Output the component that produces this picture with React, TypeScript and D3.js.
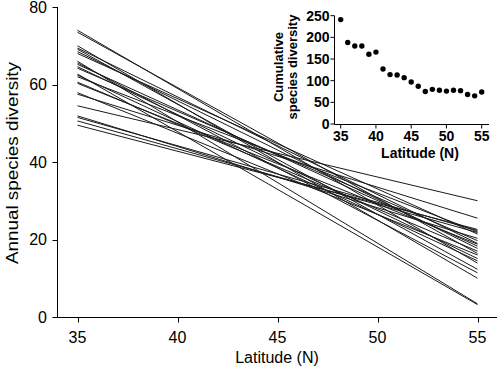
import React from "react";
import * as d3 from "d3";

// Regression lines: annual species diversity at 35°N and 55°N
const startValues = [74.0, 73.5, 70.0, 69.4, 69.1, 68.5, 68.0, 66.0, 65.6, 65.2, 64.6, 64.2, 62.7, 62.4, 62.0, 60.6, 60.3, 57.9, 57.5, 54.5, 51.9, 51.5, 50.6, 49.5];
const endValues = [13.9, 16.4, 10.0, 19.0, 12.3, 17.7, 21.4, 3.4, 11.4, 18.3, 15.1, 19.7, 3.2, 14.5, 22.0, 17.0, 18.8, 16.0, 25.5, 30.0, 20.3, 22.3, 21.8, 22.6];
const latStart = 35;
const latEnd = 55;

// Inset: cumulative species diversity by latitude
const insetLat = [35, 36, 37, 38, 39, 40, 41, 42, 43, 44, 45, 46, 47, 48, 49, 50, 51, 52, 53, 54, 55];
const insetDiv = [241, 188, 180, 180, 161, 166, 127, 114, 113, 107, 97, 87, 75, 80, 78, 76, 78, 77, 68, 65, 74];

const mainXTicks = [35, 40, 45, 50, 55];
const mainYTicks = [0, 20, 40, 60, 80];
const insetXTicks = [35, 40, 45, 50, 55];
const insetYTicks = [0, 50, 100, 150, 200, 250];

export default function App() {
  const W = 500, H = 372;
  const x = d3.scaleLinear().domain([35, 55]).range([77.5, 477.5]);
  const y = d3.scaleLinear().domain([0, 80]).range([317, 7]);
  const ix = d3.scaleLinear().domain([35, 55]).range([340.7, 481.7]);
  const iy = d3.scaleLinear().domain([0, 250]).range([124, 15.7]);
  const line = d3.line<[number, number]>().x(d => x(d[0])).y(d => y(d[1]));
  const font = "Liberation Sans, Arial, Helvetica, sans-serif";
  const axisX0 = 57.5;
  const axisY0 = 317.5;
  const iAxisX0 = 334.5;
  const iAxisY0 = 124.5;

  return (
    <svg width={W} height={H} style={{ position: "absolute", left: 0, top: 0, background: "#fff" }} fontFamily={font}>
      {/* lines */}
      <g>
        {startValues.map((s, i) => (
          <path key={i} d={line([[latStart, s], [latEnd, endValues[i]]]) || ""} stroke="#1a1a1a" strokeWidth={1} fill="none" />
        ))}
      </g>
      {/* main axes */}
      <line x1={axisX0} x2={axisX0} y1={y(80)} y2={axisY0} stroke="#000" />
      <line x1={axisX0} x2={497} y1={axisY0} y2={axisY0} stroke="#000" />
      {mainYTicks.map(t => (
        <g key={t}>
          <line x1={axisX0 - 5} x2={axisX0} y1={Math.round(y(t)) + 0.5} y2={Math.round(y(t)) + 0.5} stroke="#000" />
          <text x={47} y={y(t)} dy="0.36em" textAnchor="end" fontSize={16}>{t}</text>
        </g>
      ))}
      {mainXTicks.map(t => (
        <g key={t}>
          <line x1={Math.round(x(t)) + 0.5} x2={Math.round(x(t)) + 0.5} y1={axisY0} y2={axisY0 + 5} stroke="#000" />
          <text x={x(t)} y={343} textAnchor="middle" fontSize={16}>{t}</text>
        </g>
      ))}
      <text x={277} y={363} textAnchor="middle" fontSize={16}>Latitude (N)</text>
      <text transform="translate(18,163) rotate(-90)" textAnchor="middle" fontSize={16.5} textLength={202} lengthAdjust="spacingAndGlyphs">Annual species diversity</text>

      {/* inset */}
      <line x1={iAxisX0} x2={iAxisX0} y1={iy(250)} y2={iAxisY0} stroke="#000" />
      <line x1={iAxisX0} x2={489} y1={iAxisY0} y2={iAxisY0} stroke="#000" />
      {insetYTicks.map(t => (
        <g key={t}>
          <line x1={iAxisX0 - 4} x2={iAxisX0} y1={iy(t)} y2={iy(t)} stroke="#000" />
          <text x={329.5} y={iy(t)} dy="0.36em" textAnchor="end" fontSize={14} fontWeight="bold">{t}</text>
        </g>
      ))}
      {insetXTicks.map(t => (
        <g key={t}>
          <line x1={ix(t)} x2={ix(t)} y1={iAxisY0} y2={iAxisY0 + 4} stroke="#000" />
          <text x={ix(t)} y={140.5} textAnchor="middle" fontSize={14} fontWeight="bold">{t}</text>
        </g>
      ))}
      {insetLat.map((l, i) => (
        <circle key={l} cx={ix(l)} cy={iy(insetDiv[i])} r={2.7} fill="#000" />
      ))}
      <text x={420} y={158} textAnchor="middle" fontSize={14} fontWeight="bold">Latitude (N)</text>
      <text transform="translate(283,67) rotate(-90)" textAnchor="middle" fontSize={13} fontWeight="bold">Cumulative</text>
      <text transform="translate(297,67) rotate(-90)" textAnchor="middle" fontSize={13} fontWeight="bold">species diversity</text>
    </svg>
  );
}
